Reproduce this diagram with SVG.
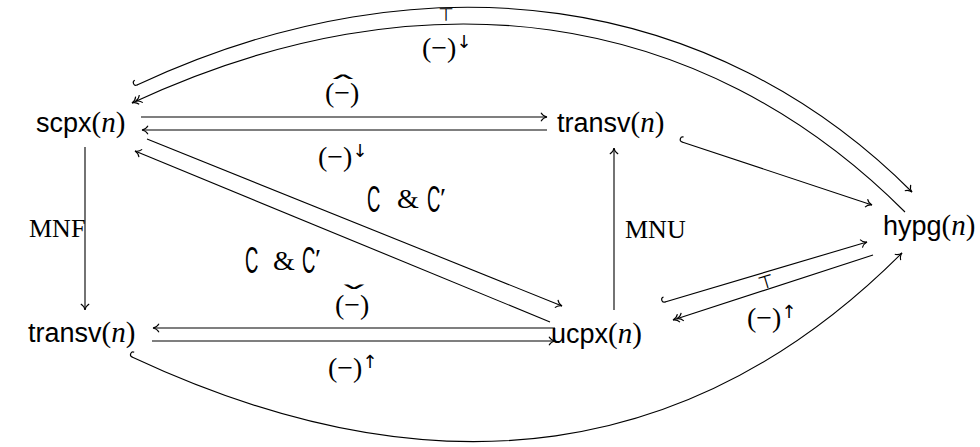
<svg xmlns="http://www.w3.org/2000/svg" width="980" height="447" viewBox="0 0 980 447">
<style>
.ln{fill:none;stroke:#000;stroke-width:1.1}
.sf{font-family:"Liberation Sans",Arial,sans-serif;font-size:27px;fill:#000}
.rm{font-family:"Liberation Serif","Times New Roman",serif;font-size:29px}
.it{font-style:italic}
.lb{font-family:"Liberation Serif","Times New Roman",serif;font-size:28px;fill:#000}
.cap{font-family:"Liberation Serif","Times New Roman",serif;font-size:26px;fill:#000}
.ar{font-family:"DejaVu Sans",sans-serif;font-size:18px;fill:#000}
.tp{font-family:"DejaVu Sans",sans-serif;font-size:18px;fill:#000}
.cc{font-family:"Liberation Sans",Arial,sans-serif;font-size:37px;fill:#000}
.acc{font-family:"DejaVu Sans",sans-serif;font-size:30px;fill:#000}
</style>
<defs>
<marker id="arr" viewBox="-8 -6 10 12" refX="0" refY="0" markerWidth="10" markerHeight="12" markerUnits="userSpaceOnUse" orient="auto">
<path d="M-6,-4.2 C-4.5,-1.6 -1.8,-0.3 0,0 C-1.8,0.3 -4.5,1.6 -6,4.2" fill="none" stroke="#000" stroke-width="1.1"/>
</marker>
<marker id="arr2" viewBox="-12 -6 14 12" refX="0" refY="0" markerWidth="14" markerHeight="12" markerUnits="userSpaceOnUse" orient="auto">
<path d="M-6,-4.2 C-4.5,-1.6 -1.8,-0.3 0,0 C-1.8,0.3 -4.5,1.6 -6,4.2 M-10,-4.2 C-8.5,-1.6 -5.8,-0.3 -4,0 C-5.8,0.3 -8.5,1.6 -10,4.2" fill="none" stroke="#000" stroke-width="1.1"/>
</marker>
<marker id="hook" viewBox="-5 -7 8 9" refX="0" refY="0" markerWidth="8" markerHeight="9" markerUnits="userSpaceOnUse" orient="auto">
<path d="M0.5,0 L0,0 A2.6,2.6 0 0 1 0,-5.2" fill="none" stroke="#000" stroke-width="1.1"/>
</marker>
</defs>
<rect width="980" height="447" fill="#fff"/>

<g id="edges">
<line class="ln" x1="141" y1="117" x2="547" y2="117" marker-end="url(#arr)"/>
<line class="ln" x1="547" y1="130" x2="142" y2="130" marker-end="url(#arr)"/>
<path class="ln" d="M137,85 C427,-50 714,-6 912,192" marker-start="url(#hook)" marker-end="url(#arr)"/>
<path class="ln" d="M905,212 C700,7 422,-32 132,103" marker-end="url(#arr2)"/>
<line class="ln" x1="85" y1="147" x2="85" y2="310" marker-end="url(#arr)"/>
<line class="ln" x1="614" y1="310" x2="614" y2="148" marker-end="url(#arr)"/>
<line class="ln" x1="682" y1="142" x2="872" y2="205" marker-start="url(#hook)" marker-end="url(#arr)"/>
<line class="ln" x1="147" y1="139" x2="562" y2="306" marker-end="url(#arr)"/>
<line class="ln" x1="550" y1="322" x2="135" y2="151" marker-end="url(#arr)"/>
<line class="ln" x1="555" y1="328" x2="153" y2="328" marker-end="url(#arr)"/>
<line class="ln" x1="152" y1="341" x2="555" y2="341" marker-end="url(#arr)"/>
<line class="ln" x1="665" y1="302" x2="867" y2="242" marker-start="url(#hook)" marker-end="url(#arr)"/>
<line class="ln" x1="873" y1="255" x2="673" y2="320" marker-end="url(#arr2)"/>
<path class="ln" d="M132,357 C440,501 697,458 902,253" marker-start="url(#hook)" marker-end="url(#arr)"/>
</g>

<g id="node-scpx"><text class="sf" x="36" y="132">scpx<tspan class="rm">(<tspan class="it">n</tspan>)</tspan></text></g>
<g id="node-transv-top"><text class="sf" x="557" y="132">transv<tspan class="rm">(<tspan class="it">n</tspan>)</tspan></text></g>
<g id="node-hypg"><text class="sf" x="883" y="235">hypg<tspan class="rm">(<tspan class="it">n</tspan>)</tspan></text></g>
<g id="node-transv-bottom"><text class="sf" x="28" y="342">transv<tspan class="rm">(<tspan class="it">n</tspan>)</tspan></text></g>
<g id="node-ucpx"><text class="sf" x="551" y="343">ucpx<tspan class="rm">(<tspan class="it">n</tspan>)</tspan></text></g>

<g id="labels">
<text class="tp" x="446" y="21" text-anchor="middle">⊤</text>
<text class="lb" x="422" y="57">(−)<tspan class="ar" dy="-9">↓</tspan></text>
<text class="lb" x="325" y="102">(−)</text>
<text class="acc" transform="translate(343,94) scale(2.2,0.8)" text-anchor="middle">ˆ</text>
<text class="lb" x="318" y="166">(−)<tspan class="ar" dy="-9">↓</tspan></text>
<text class="cap" x="29" y="237" font-size="24">MNF</text>
<text class="cap" x="625" y="238" font-size="27">MNU</text>
<text class="cc" transform="translate(367,212) scale(0.5,1)">C</text>
<text class="lb" x="397" y="208" font-size="24">&amp;</text>
<text class="cc" transform="translate(427,212) scale(0.5,1)">C</text>
<text class="lb" x="440" y="207">′</text>
<text class="cc" transform="translate(245,273) scale(0.5,1)">C</text>
<text class="lb" x="273" y="270" font-size="24">&amp;</text>
<text class="cc" transform="translate(302,273) scale(0.5,1)">C</text>
<text class="lb" x="315" y="268">′</text>
<text class="acc" transform="translate(354,304) scale(2.2,0.8)" text-anchor="middle">ˇ</text>
<text class="lb" x="335" y="314">(−)</text>
<text class="lb" x="328" y="377">(−)<tspan class="ar" dy="-9">↑</tspan></text>
<text class="lb" x="747" y="327">(−)<tspan class="ar" dy="-9">↑</tspan></text>
<text class="tp" transform="translate(768,288) rotate(-17)" text-anchor="middle">⊤</text>
</g>
</svg>
